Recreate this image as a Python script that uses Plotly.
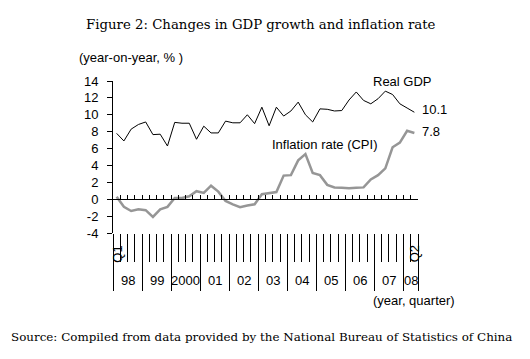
import plotly.graph_objects as go

# ---- data ----
years = ["98", "99", "2000", "01", "02", "03", "04", "05", "06", "07", "08"]
quarters_per_year = [4, 4, 4, 4, 4, 4, 4, 4, 4, 4, 2]
first_q_label = "Q1"
last_q_label = "Q2"

gdp = [7.8, 6.9, 8.3, 8.85, 9.15, 7.65, 7.7, 6.3,
       9.1, 9.0, 9.0, 7.1, 8.65, 7.85, 7.85, 9.25,
       9.05, 9.05, 10.0, 8.95, 10.9, 8.7, 10.9, 9.85,
       10.45, 11.5, 10.0, 9.15, 10.7, 10.65, 10.45, 10.5,
       11.75, 12.7, 11.7, 11.3, 11.9, 12.8, 12.4, 11.3,
       10.8, 10.3]
cpi = [0.3, -0.9, -1.4, -1.2, -1.3, -2.1, -1.2, -0.9,
       0.15, 0.15, 0.35, 0.95, 0.75, 1.6, 0.9, -0.2,
       -0.6, -0.95, -0.75, -0.6, 0.6, 0.7, 0.85, 2.8,
       2.85, 4.6, 5.35, 3.1, 2.85, 1.7, 1.4, 1.35,
       1.3, 1.35, 1.4, 2.35, 2.85, 3.65, 6.15, 6.7,
       8.1, 7.85]
gdp_end_label = "10.1"
cpi_end_label = "7.8"
y_ticks = [-4, -2, 0, 2, 4, 6, 8, 10, 12, 14]
y_tick_text = ["-4", "-2", "0", "2", "4", "6", "8", "10", "12", "14"]

# ---- derived positions ----
n = len(gdp)
xs = [i + 0.5 for i in range(n)]
bounds = [0]
for q in quarters_per_year:
    bounds.append(bounds[-1] + q)
year_centers = [(bounds[k] + bounds[k + 1]) / 2 for k in range(len(years))]

W_FIG, H_FIG = 530, 359
L, T, W, H = 113, 81, 305, 152


def px(x):
    return (x - L) / W


def py(y):
    return (T + H - y) / H


SANS = "Liberation Sans, Arial, sans-serif"
SERIF = "DejaVu Serif, serif"

fig = go.Figure()
fig.add_trace(go.Scatter(x=xs, y=gdp, mode="lines",
                         line=dict(color="black", width=1),
                         showlegend=False, hoverinfo="skip"))
fig.add_trace(go.Scatter(x=xs, y=cpi, mode="lines",
                         line=dict(color="#969696", width=2.5),
                         showlegend=False, hoverinfo="skip"))
# dummy traces so overlay axes are drawn
fig.add_trace(go.Scatter(x=[None], y=[None], xaxis="x2", showlegend=False, hoverinfo="skip"))
fig.add_trace(go.Scatter(x=[None], y=[None], xaxis="x3", showlegend=False, hoverinfo="skip"))

xr = [0, n]
zero_pos = (0 - y_ticks[0]) / (y_ticks[-1] - y_ticks[0])

fig.update_layout(
    width=W_FIG, height=H_FIG,
    margin=dict(l=L, r=W_FIG - L - W, t=T, b=H_FIG - T - H, pad=0),
    paper_bgcolor="white", plot_bgcolor="white",
    font=dict(family=SANS, size=13, color="black"),
    xaxis=dict(range=xr, showgrid=False, zeroline=False, showline=False,
               ticks="outside", tickvals=list(range(0, n + 1)),
               ticklen=28, tickwidth=1, tickcolor="black",
               showticklabels=False, fixedrange=True),
    xaxis2=dict(range=xr, overlaying="x", anchor="y", side="bottom",
                showgrid=False, zeroline=False, showline=False,
                ticks="outside", tickvals=bounds, ticklen=57, tickwidth=1,
                tickcolor="black", showticklabels=False),
    xaxis3=dict(range=xr, overlaying="x", anchor="free", position=zero_pos,
                side="bottom", showgrid=False, zeroline=False,
                showline=True, linecolor="black", linewidth=1,
                ticks="inside", tickvals=list(range(0, n + 1)), ticklen=4,
                tickwidth=1, tickcolor="black", showticklabels=False),
    yaxis=dict(range=[y_ticks[0], y_ticks[-1]], tickvals=y_ticks,
               ticktext=y_tick_text,
               showgrid=False, zeroline=False, showline=True,
               linecolor="black", linewidth=1, ticks="outside", ticklen=5,
               tickcolor="black", tickfont=dict(family=SANS, size=13),
               ticklabelstandoff=6, fixedrange=True),
)

ann = []
# year labels
for yl, xc in zip(years, year_centers):
    ann.append(dict(x=xc, y=py(280), xref="x", yref="paper", text=yl,
                    showarrow=False, xanchor="center", yanchor="middle",
                    font=dict(family=SANS, size=13)))
# quarter labels (first and last)
ann.append(dict(x=xs[0], y=py(254), xref="x", yref="paper", text=first_q_label,
                showarrow=False, textangle=-90, xanchor="center", yanchor="middle",
                font=dict(family=SANS, size=13)))
ann.append(dict(x=xs[-1], y=py(254), xref="x", yref="paper", text=last_q_label,
                showarrow=False, textangle=-90, xanchor="center", yanchor="middle",
                font=dict(family=SANS, size=13)))
# other texts
ann += [
    dict(x=px(260.5), y=py(24), text="Figure 2: Changes in GDP growth and inflation rate",
         font=dict(family=SERIF, size=13.3)),
    dict(x=px(261), y=py(337), text="Source: Compiled from data provided by the National Bureau of Statistics of China",
         font=dict(family=SERIF, size=11.9)),
    dict(x=px(77), y=py(58), xanchor="left", text="(year-on-year, % )"),
    dict(x=px(414), y=py(300), text="(year, quarter)"),
    dict(x=px(402), y=py(81), text="Real GDP"),
    dict(x=px(325), y=py(144), text="Inflation rate (CPI)"),
    dict(x=px(420), y=py(109.5), xanchor="left", text=gdp_end_label),
    dict(x=px(420), y=py(131.5), xanchor="left", text=cpi_end_label),
]
for a in ann:
    a.setdefault("xref", "paper")
    a.setdefault("yref", "paper")
    a.setdefault("showarrow", False)
    a.setdefault("xanchor", "center")
    a.setdefault("yanchor", "middle")
    a.setdefault("font", dict(family=SANS, size=13))
fig.update_layout(annotations=ann)

fig.write_html("out.html", config={"displayModeBar": False},
               post_script="document.body.style.margin='0';")
